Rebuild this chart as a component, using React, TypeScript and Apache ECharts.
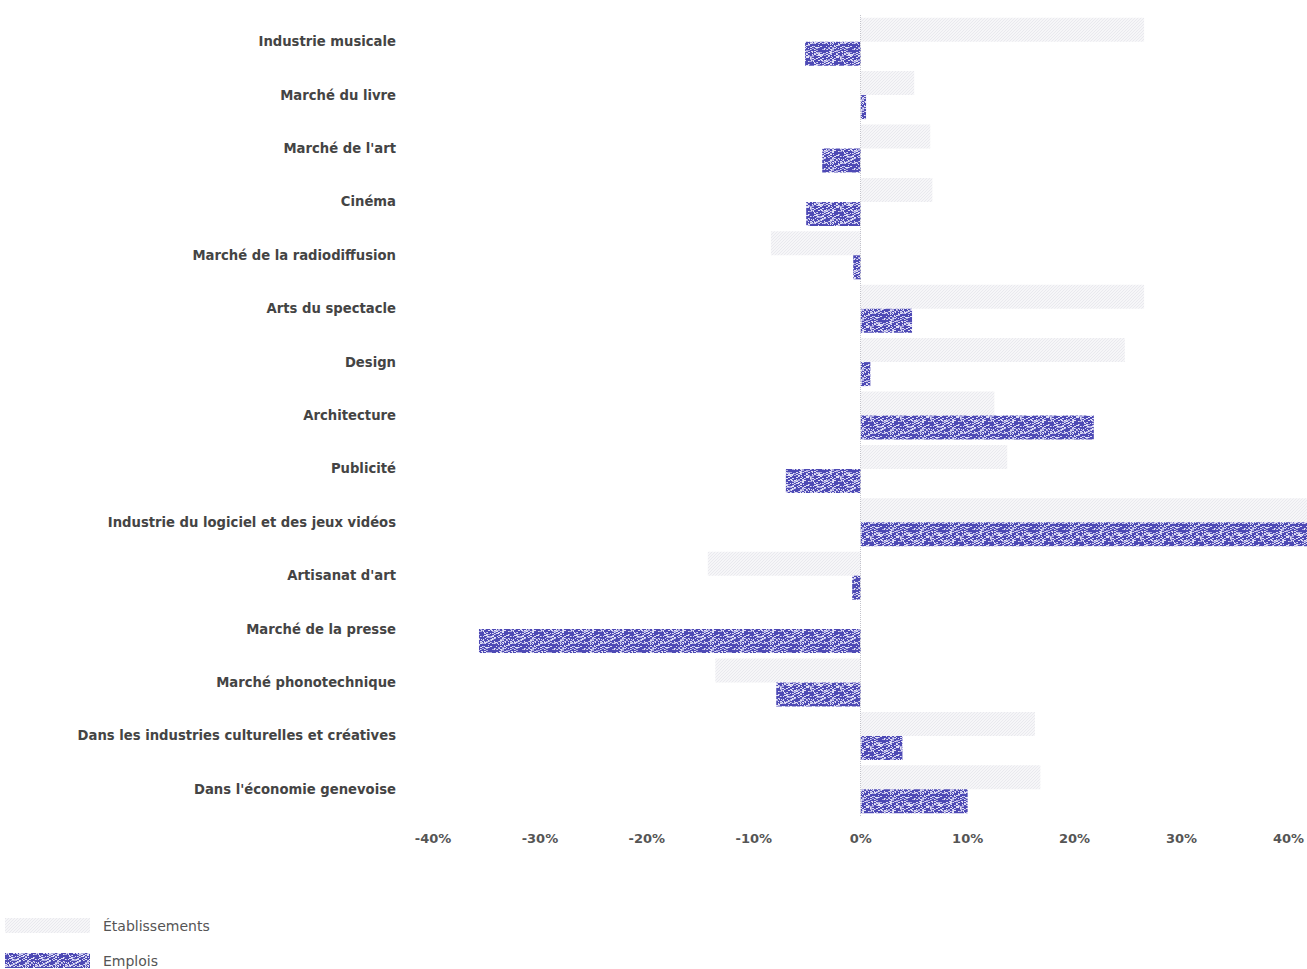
import React, { useEffect, useRef } from "react";
import * as echarts from "echarts";

const categories = [
  "Industrie musicale",
  "Marché du livre",
  "Marché de l'art",
  "Cinéma",
  "Marché de la radiodiffusion",
  "Arts du spectacle",
  "Design",
  "Architecture",
  "Publicité",
  "Industrie du logiciel et des jeux vidéos",
  "Artisanat d'art",
  "Marché de la presse",
  "Marché phonotechnique",
  "Dans les industries culturelles et créatives",
  "Dans l'économie genevoise",
];

const etablissements = [26.5, 5.0, 6.5, 6.7, -8.4, 26.5, 24.7, 12.5, 13.7, 45, -14.3, 0, -13.6, 16.3, 16.8];
const emplois = [-5.2, 0.5, -3.6, -5.1, -0.7, 4.8, 0.9, 21.8, -7.0, 45, -0.8, -35.7, -7.9, 3.9, 10.0];

const xTicks = { min: -40, max: 40, interval: 10 };

function hash(x: number, y: number): number {
  let h = (x * 374761393 + y * 668265263) | 0;
  h = Math.imul(h ^ (h >>> 13), 1274126177);
  h = h ^ (h >>> 16);
  return ((h >>> 0) % 1000) / 1000;
}

function makeEmploisPattern(): HTMLCanvasElement {
  const size = 30;
  const c = document.createElement("canvas");
  c.width = size;
  c.height = size;
  const ctx = c.getContext("2d")!;
  ctx.fillStyle = "#4e4ab5";
  ctx.fillRect(0, 0, size, size);
  for (let y = 0; y < size; y++) {
    for (let x = 0; x < size; x++) {
      const v = hash(Math.floor(x / 2) + (y % 2), Math.floor(y / 2));
      const w = hash(x, y);
      if (v > 0.64 || w > 0.9) {
        ctx.fillStyle = w > 0.55 ? "#e2e1f5" : "#aeabe0";
        ctx.fillRect(x, y, 1, 1);
      }
    }
  }
  return c;
}

function makeEtabPattern(): HTMLCanvasElement {
  const size = 6;
  const c = document.createElement("canvas");
  c.width = size;
  c.height = size;
  const ctx = c.getContext("2d")!;
  ctx.fillStyle = "#f6f6f8";
  ctx.fillRect(0, 0, size, size);
  ctx.fillStyle = "#e9e9ee";
  for (let y = 0; y < size; y++) {
    for (let x = 0; x < size; x++) {
      if ((x + y) % 3 === 0) ctx.fillRect(x, y, 1, 1);
    }
  }
  return c;
}

export default function App() {
  const ref = useRef<HTMLDivElement>(null);
  useEffect(() => {
    if (!ref.current) return;
    const chart = echarts.init(ref.current, null, { renderer: "svg" });
    const emPattern = { image: makeEmploisPattern(), repeat: "repeat" };
    const etPattern = { image: makeEtabPattern(), repeat: "repeat" };
    const font = "'DejaVu Sans', 'Noto Sans', sans-serif";
    chart.setOption({
      animation: false,
      backgroundColor: "#ffffff",
      textStyle: { fontFamily: font },
      grid: { left: 433, right: 14, top: 15, bottom: 153, containLabel: false },
      legend: {
        orient: "vertical",
        left: 5,
        top: 918,
        padding: 0,
        itemWidth: 85,
        itemHeight: 15,
        itemGap: 20,
        icon: "rect",
        textStyle: { color: "#555", fontSize: 14, lineHeight: 15, fontFamily: font, padding: [0, 0, 0, 8] },
        data: ["Établissements", "Emplois"],
      },
      xAxis: {
        type: "value",
        min: xTicks.min,
        max: xTicks.max,
        interval: xTicks.interval,
        axisLine: { show: false },
        axisTick: { show: false },
        splitLine: { show: false },
        axisLabel: {
          formatter: "{value}%",
          color: "#555",
          fontSize: 13,
          fontWeight: "bold",
          fontFamily: font,
          margin: 16,
        },
      },
      yAxis: {
        type: "category",
        inverse: true,
        data: categories,
        axisLine: { show: false },
        axisTick: { show: false },
        splitLine: { show: false },
        axisLabel: {
          color: "#444",
          fontSize: 13.2,
          fontWeight: "bold",
          fontFamily: font,
          margin: 37,
        },
      },
      series: [
        {
          name: "Établissements",
          type: "bar",
          data: etablissements,
          barWidth: 24,
          barGap: "0%",
          clip: false,
          itemStyle: { color: etPattern },
          markLine: {
            silent: true,
            symbol: "none",
            label: { show: false },
            lineStyle: { color: "#c4c4cc", type: "dotted", width: 1 },
            data: [{ xAxis: 0 }],
          },
        },
        {
          name: "Emplois",
          type: "bar",
          data: emplois,
          barWidth: 24,
          barGap: "0%",
          clip: false,
          itemStyle: { color: emPattern },
        },
      ],
    });
    return () => chart.dispose();
  }, []);
  return (
    <div
      ref={ref}
      style={{ position: "absolute", left: 0, top: 0, width: 1307, height: 969 }}
    />
  );
}
